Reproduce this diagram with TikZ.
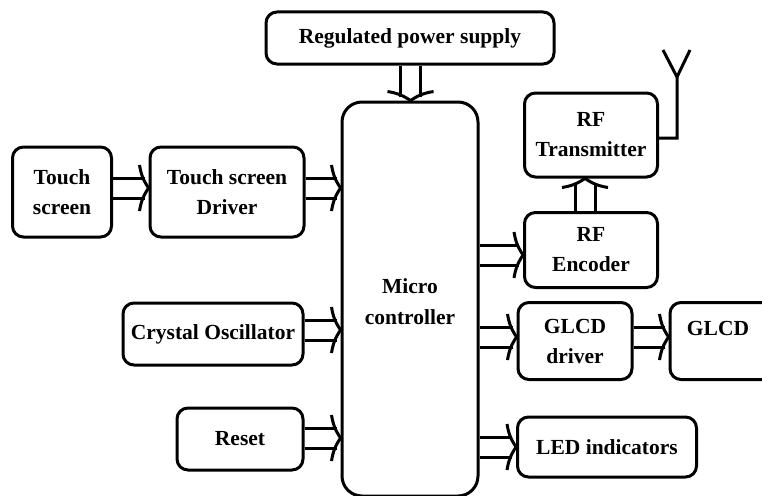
\documentclass[tikz,border=0pt]{standalone}
\usepackage{fontspec}
\setmainfont{Liberation Serif}
\begin{document}
\begin{tikzpicture}[x=1pt,y=-1pt,
  blk/.style={draw, line width=3pt, rounded corners=11pt, align=center,
    font=\fontsize{21.5}{30}\selectfont\bfseries, inner sep=0pt},
  wire/.style={draw, line width=3pt, line join=miter}]
\newcommand\rflow[2]{%
  \draw[wire] ([yshift=10pt]#1) -- ([yshift=10pt,xshift=-4pt]#2);
  \draw[wire] ([yshift=-10pt]#1) -- ([yshift=-10pt,xshift=-4pt]#2);
  \draw[wire] ([xshift=-9pt,yshift=23pt]#2) to[bend right=12] (#2) to[bend right=12] ([xshift=-9pt,yshift=-23pt]#2);}
\useasboundingbox (0,0) rectangle (762,495);
\clip (0,0) rectangle (762,495);
\node[blk, minimum width=288pt, minimum height=52pt] (ps) at (410,38) {Regulated power supply};
\node[blk, rounded corners=20pt, minimum width=136pt, minimum height=394pt] (mc) at (410,299) {};
\node[font=\fontsize{21.5}{31}\selectfont\bfseries, align=center] (mct) at (410,302) {Micro\\controller};
\node[blk, minimum width=99pt, minimum height=90pt] (ts) at (62,192) {Touch\\screen};
\node[blk, minimum width=154pt, minimum height=90pt] (tsd) at (227,192) {Touch screen\\Driver};
\node[blk, minimum width=180pt, minimum height=62pt] (xo) at (213,334) {Crystal Oscillator};
\node[blk, minimum width=126pt, minimum height=62pt] (rs) at (240,439) {Reset};
\node[blk, minimum width=133pt, minimum height=84pt] (rft) at (591,135) {RF\\Transmitter};
\node[blk, minimum width=133pt, minimum height=75pt] (rfe) at (591,250) {RF\\Encoder};
\node[blk, minimum width=114pt, minimum height=77pt] (gd) at (575,341) {GLCD\\driver};
\node[blk, minimum width=110pt, minimum height=77pt] (gl) at (725,341) {};
\node[font=\fontsize{21.5}{30}\selectfont\bfseries] (glt) at (718,328) {GLCD};
\node[blk, minimum width=179pt, minimum height=60pt] (led) at (607,447) {LED indicators};
% arrow end points
\coordinate (p1) at (ts.east |- 0,188);  \coordinate (p2) at (tsd.west |- 0,188);
\coordinate (p3) at (tsd.east |- 0,188); \coordinate (p4) at (mc.west |- 0,188);
\coordinate (p5) at (xo.east |- 0,330);  \coordinate (p6) at (mc.west |- 0,330);
\coordinate (p7) at (rs.east |- 0,438);  \coordinate (p8) at (mc.west |- 0,438);
\coordinate (q1) at (mc.east |- 0,255);  \coordinate (q2) at (rfe.west |- 0,255);
\coordinate (q3) at (mc.east |- 0,337);  \coordinate (q4) at (gd.west |- 0,337);
\coordinate (q5) at (gd.east |- 0,337);  \coordinate (q6) at (gl.west |- 0,337);
\coordinate (q7) at (mc.east |- 0,447);  \coordinate (q8) at (led.west |- 0,447);
\rflow{p1}{p2}\rflow{p3}{p4}\rflow{p5}{p6}\rflow{p7}{p8}
\rflow{q1}{q2}\rflow{q3}{q4}\rflow{q5}{q6}\rflow{q7}{q8}
% power supply down arrow
\coordinate (d1) at (ps.south -| 410.5,0); \coordinate (d2) at (mc.north -| 410.5,0);
\draw[wire] ([xshift=-10pt]d1) -- ([xshift=-10pt,yshift=4pt]d2);
\draw[wire] ([xshift=10pt]d1) -- ([xshift=10pt,yshift=4pt]d2);
\draw[wire] ([xshift=-23pt,yshift=9pt]d2) to[bend left=12] (d2) to[bend left=12] ([xshift=23pt,yshift=9pt]d2);
% encoder up arrow
\coordinate (u1) at (rfe.north -| 585,0); \coordinate (u2) at (rft.south -| 585,0);
\draw[wire] ([xshift=-10pt]u1) -- ([xshift=-10pt,yshift=-4pt]u2);
\draw[wire] ([xshift=10pt]u1) -- ([xshift=10pt,yshift=-4pt]u2);
\draw[wire] ([xshift=-23pt,yshift=-9pt]u2) to[bend right=12] (u2) to[bend right=12] ([xshift=23pt,yshift=-9pt]u2);
% antenna
\coordinate (a1) at (677,138);
\coordinate (a2) at (677,77);
\coordinate (a3) at (663,50);
\coordinate (a4) at (690,50);
\draw[wire] (rft.east |- a1) -- (a1) -- (a2) -- (a3);
\draw[wire] (a2) -- (a4);
\end{tikzpicture}
\end{document}
